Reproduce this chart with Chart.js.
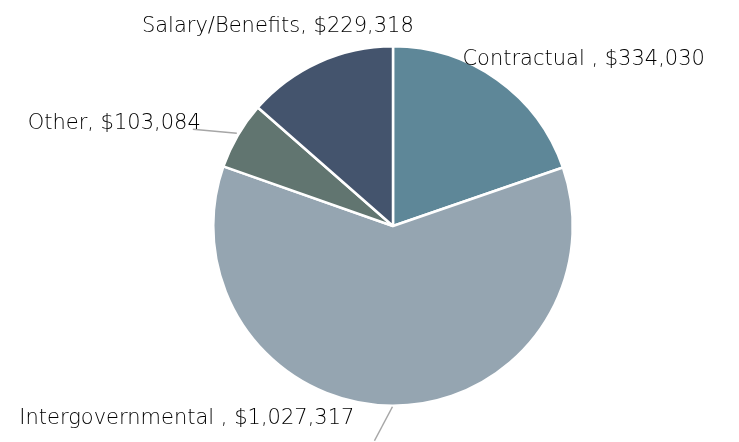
<!DOCTYPE html>
<html>
<head>
<meta charset="utf-8">
<script src="https://cdn.jsdelivr.net/npm/chart.js@4.4.0/dist/chart.umd.min.js"></script>
<style>
  html, body { margin: 0; padding: 0; background: #fff; }
  #wrap { width: 739px; height: 442px; position: relative; }
</style>
</head>
<body>
<div id="wrap"><canvas id="pieChart" width="739" height="442"></canvas></div>
<script>
'use strict';

var categories = ['Contractual ', 'Intergovernmental ', 'Other', 'Salary/Benefits'];
var amounts = [334030, 1027317, 103084, 229318];
var sliceColors = ['#5e8798', '#95a5b1', '#617570', '#44546d'];

function money(v){
  return '$' + v.toLocaleString('en-US');
}

// draws the "Name, $value" labels next to each slice
var sliceLabels = {
  id: 'sliceLabels',
  afterDraw: function(chart){
    var ctx = chart.ctx;
    var arcs = chart.getDatasetMeta(0).data;
    ctx.save();
    ctx.font = '300 21px "DejaVu Sans", sans-serif';
    ctx.fillStyle = '#000000';
    ctx.strokeStyle = '#a6a6a6';
    ctx.lineWidth = 1.5;
    ctx.textBaseline = 'alphabetic';
    for(let i = 0; i < arcs.length; ++i){
      var a = arcs[i];
      var mid = (a.startAngle + a.endAngle) / 2;
      var px = a.x + Math.cos(mid) * a.outerRadius;
      var py = a.y + Math.sin(mid) * a.outerRadius;
      var text = categories[i] + ', ' + money(amounts[i]);
      if(i === 0){
        ctx.textAlign = 'left';
        ctx.fillText(text, px - 35, py - 15);
      } else if(i === 1){
        ctx.beginPath();
        ctx.moveTo(px, py + 1);
        ctx.lineTo(px - 18, py + 35);
        ctx.stroke();
        ctx.textAlign = 'right';
        ctx.fillText(text, px - 38, py + 18);
      } else if(i === 2){
        ctx.beginPath();
        ctx.moveTo(px - 1, py - 2);
        ctx.lineTo(px - 45, py - 6);
        ctx.stroke();
        ctx.textAlign = 'right';
        ctx.fillText(text, px - 37, py - 6);
      } else {
        ctx.textAlign = 'center';
        ctx.fillText(text, px - 41, py - 30);
      }
    }
    ctx.restore();
  }
};

var ctx = document.getElementById('pieChart').getContext('2d');
var chart = new Chart(ctx, {
  type: 'pie',
  data: {
    labels: categories,
    datasets: [{
      data: amounts,
      backgroundColor: sliceColors,
      borderColor: '#ffffff',
      borderWidth: 2.5
    }]
  },
  options: {
    responsive: false,
    animation: false,
    layout: { padding: { left: 212, right: 165, top: 45, bottom: 35 } },
    plugins: {
      legend: { display: false },
      tooltip: { enabled: false }
    }
  },
  plugins: [sliceLabels]
});
</script>
</body>
</html>
